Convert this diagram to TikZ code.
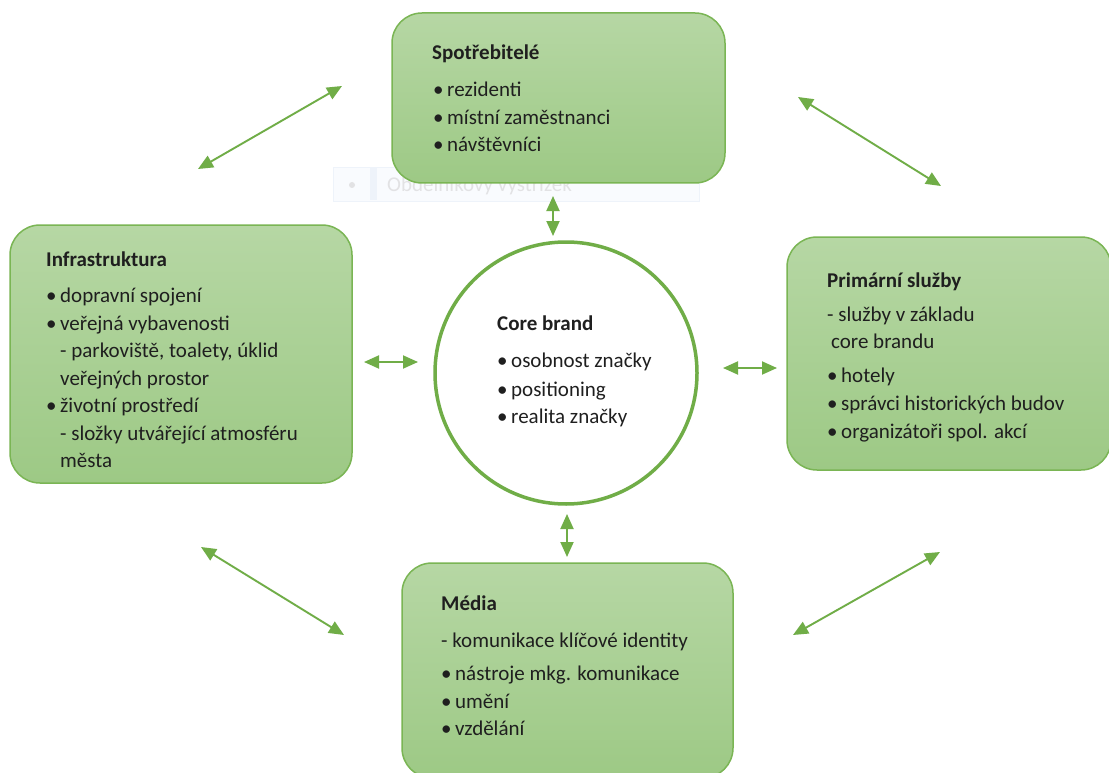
\documentclass[tikz,border=0pt]{standalone}
\usepackage{fontspec}
\setmainfont{Carlito}
\usetikzlibrary{arrows.meta}
\definecolor{gtop}{RGB}{182,215,164}
\definecolor{gbot}{RGB}{157,201,133}
\definecolor{gborder}{RGB}{122,181,84}
\definecolor{garrow}{RGB}{112,173,71}
\definecolor{snipbg}{RGB}{249,251,254}
\definecolor{snipline}{RGB}{238,243,250}
\definecolor{sniptext}{RGB}{226,226,228}
\newcommand\bul{\makebox[14pt][l]{•}}
\begin{document}
\begin{tikzpicture}[x=1pt,y=-1pt,
  box/.style={draw=gborder, line width=1.5pt, rounded corners=30pt, top color=gtop, bottom color=gbot, inner sep=0pt},
  txt/.style={anchor=base west, inner sep=0pt, font=\fontsize{21}{24}\selectfont, text=black!88},
  ttl/.style={txt, font=\fontsize{21}{24}\selectfont\bfseries},
  link/.style={draw=garrow, line width=1.9pt, {Triangle[length=15pt,width=13pt]}-{Triangle[length=15pt,width=13pt]}}
]
\useasboundingbox[fill=white] (0,0) rectangle (1109,773);

% faint snipping-tool artifact
\node[draw=snipline, fill=snipbg, line width=0.8pt, minimum width=366pt, minimum height=34pt, inner sep=0pt] (snip) at (516,184) {};
\node[fill=snipline, minimum width=7pt, minimum height=33pt, inner sep=0pt] (snipsep) at (373,184) {};
\node[circle, fill=sniptext, minimum size=6pt, inner sep=0pt] (snipdot) at (352,185) {};
\node[txt, text=sniptext] (sniptxt) at (387,191) {Obdélníkový výstřižek};

% boxes
\node[box, minimum width=333pt, minimum height=170pt] (spot) at (558.5,98) {};
\node[box, minimum width=342pt, minimum height=258pt] (infra) at (181,354) {};
\node[box, minimum width=324pt, minimum height=233pt] (prim) at (949,353.5) {};
\node[box, minimum width=331pt, minimum height=215pt] (media) at (567.5,670.5) {};
\node[circle, draw=garrow, line width=3.5pt, fill=white, minimum size=262pt, inner sep=0pt] (core) at (566,373) {};

% Spotřebitelé
\node[ttl] (s0) at (432,60) {Spotřebitelé};
\node[txt] (s1) at (433,97) {\bul rezidenti};
\node[txt] (s2) at (433,125) {\bul místní zaměstnanci};
\node[txt] (s3) at (433,152) {\bul návštěvníci};

% Infrastruktura
\node[ttl] (i0) at (46,266) {Infrastruktura};
\node[txt] (i1) at (46,302) {\bul dopravní spojení};
\node[txt] (i2) at (46,330) {\bul veřejná vybavenosti};
\node[txt] (i3) at (60,357) {- parkoviště, toalety, úklid};
\node[txt] (i4) at (60,385) {veřejných prostor};
\node[txt] (i5) at (46,412) {\bul životní prostředí};
\node[txt] (i6) at (60,440) {- složky utvářející atmosféru};
\node[txt] (i7) at (60,467) {města};

% Primární služby
\node[ttl] (p0) at (827,287) {Primární služby};
\node[txt] (p1) at (827,321) {- služby v základu};
\node[txt] (p2) at (831,348) {core brandu};
\node[txt] (p3) at (827,382) {\bul hotely};
\node[txt] (p4) at (827,410) {\bul správci historických budov};
\node[txt] (p5) at (827,438) {\bul organizátoři spol. akcí};

% Core brand
\node[ttl] (c0) at (497,330) {Core brand};
\node[txt] (c1) at (497,367) {\bul osobnost značky};
\node[txt] (c2) at (497,396) {\bul positioning};
\node[txt] (c3) at (497,423) {\bul realita značky};

% Média
\node[ttl] (m0) at (441,610) {Média};
\node[txt] (m1) at (441,647) {- komunikace klíčové identity};
\node[txt] (m2) at (441,680) {\bul nástroje mkg. komunikace};
\node[txt] (m3) at (441,708) {\bul umění};
\node[txt] (m4) at (441,735) {\bul vzdělání};

% arrow end points
\coordinate (tl1) at (198,169); \coordinate (tl2) at (342,86);
\coordinate (tr1) at (798,97);  \coordinate (tr2) at (941,186);
\coordinate (bl1) at (201,547); \coordinate (bl2) at (344,635);
\coordinate (br1) at (793,635); \coordinate (br2) at (940,552);
\coordinate (vt1) at (553,196); \coordinate (vt2) at (553,236);
\coordinate (vb1) at (567,514); \coordinate (vb2) at (567,557);
\coordinate (hl1) at (364,362); \coordinate (hl2) at (418,362);
\coordinate (hr1) at (723,368); \coordinate (hr2) at (777,368);

\draw[link] (tl1) -- (tl2);
\draw[link] (tr1) -- (tr2);
\draw[link] (bl1) -- (bl2);
\draw[link] (br1) -- (br2);
\draw[link] (vt1) -- (vt2);
\draw[link] (vb1) -- (vb2);
\draw[link] (hl1) -- (hl2);
\draw[link] (hr1) -- (hr2);
\end{tikzpicture}
\end{document}
